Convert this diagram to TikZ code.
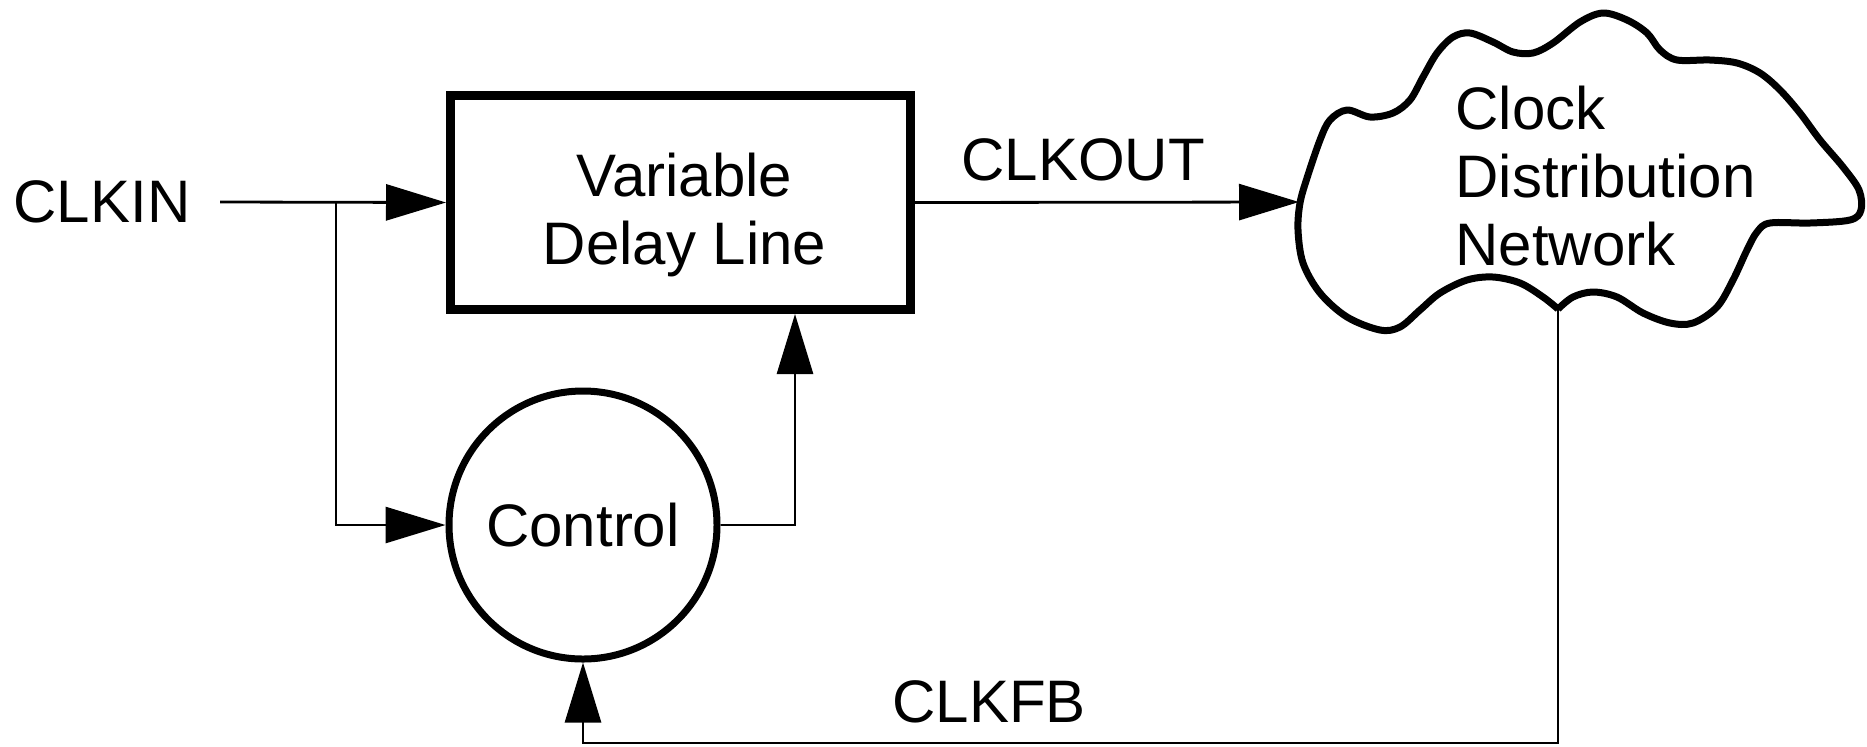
\documentclass[tikz,border=0pt]{standalone}
\usepackage{fontspec}
\setmainfont{Liberation Sans}
\usetikzlibrary{arrows.meta,calc}
\begin{document}
\begin{tikzpicture}[x=0.5pt,y=-0.5pt]
\tikzset{
  lbl/.style={font=\fontsize{30}{34}\selectfont, inner sep=0pt},
  wire/.style={line width=1.4pt},
  arr/.style={wire, -{Triangle[length=30pt,width=18pt]}},
  blockbox/.style={draw, line width=4.5pt, minimum width=230pt, minimum height=107pt, inner sep=0pt},
  ctrlcircle/.style={draw, circle, line width=3.5pt, minimum size=134pt, inner sep=0pt, lbl},
  cloudline/.style={line width=3.5pt, line join=round}
}
\useasboundingbox (0,0) rectangle (1867,746);

% blocks
\node[blockbox] (vdl) at (680.5,202.5) {};
\node[lbl, align=center] (vdltext) at ([xshift=2pt,yshift=-6pt]vdl.center) {Variable\\Delay Line};
\node[ctrlcircle] (ctrl) at (583,525) {Control};

% cloud
\draw[cloudline] plot[smooth, tension=0.55] coordinates {
 (1558,309) (1543,297) (1520,283) (1493,277) (1467,280) (1440,293) (1420,310)
 (1400,327) (1380,330) (1347,317) (1320,293) (1303,263) (1298,230) (1300,203)
 (1307,178) (1320,140) (1330,120) (1347,110) (1370,117) (1393,113) (1410,100)
 (1423,77) (1437,53) (1453,37) (1470,33) (1493,42) (1513,52) (1533,53)
 (1553,43) (1580,22) (1603,13) (1627,20) (1647,33) (1660,50) (1677,60)
 (1710,60) (1737,63) (1760,73) (1780,90) (1800,113) (1820,140) (1843,167)
 (1859,190) (1861,210) (1850,220) (1810,223) (1770,223) (1757,232) (1747,250)
 (1733,280) (1717,307) (1693,323) (1670,323) (1643,313) (1617,297) (1593,292)
 (1573,297) (1558,309)};
\node[lbl, align=left, anchor=west] (cdn) at (1455,176) {Clock\\Distribution\\Network};
\coordinate (cloudin) at (1299,202);
\coordinate (cloudout) at (1558,309);

% labels
\node[lbl] (clkin) at (102,202) {CLKIN};
\node[lbl] (clkout) at (1083,160) {CLKOUT};
\node[lbl] (clkfb) at (989,702) {CLKFB};

% connectors
\coordinate (inl) at (220,202);
\coordinate (br) at (336,202);
\draw[arr] (inl) -- (vdl.west);
\draw[arr] (br) |- (ctrl.west);
\draw[arr] (ctrl.east) -| ([xshift=57.25pt]vdl.south);
\draw[arr] (vdl.east) -- (cloudin);
\draw[arr] (cloudout) -- ++(0,434) -| (ctrl.south);
\end{tikzpicture}
\end{document}
